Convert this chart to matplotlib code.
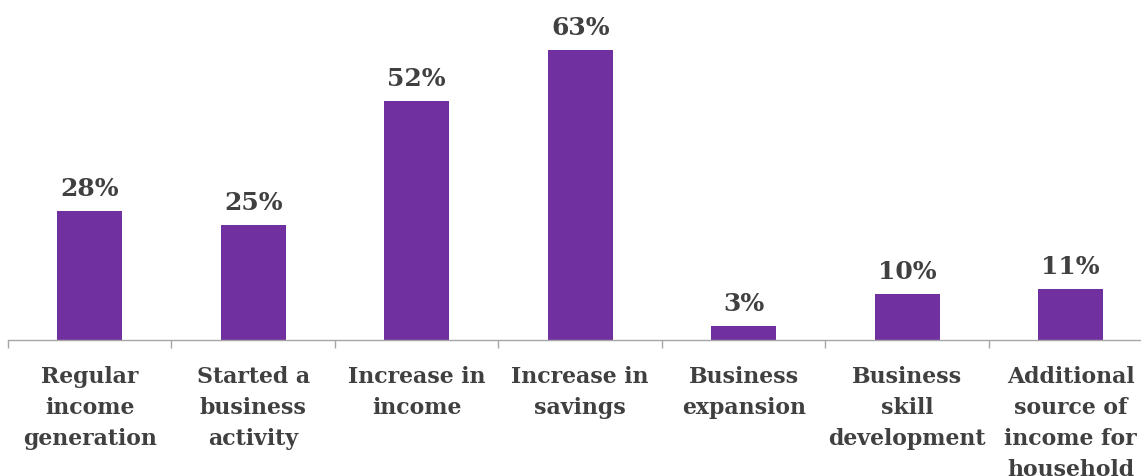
import matplotlib
matplotlib.use("Agg")
import matplotlib.pyplot as plt

categories = [
    "Regular\nincome\ngeneration",
    "Started a\nbusiness\nactivity",
    "Increase in\nincome",
    "Increase in\nsavings",
    "Business\nexpansion",
    "Business\nskill\ndevelopment",
    "Additional\nsource of\nincome for\nhousehold",
]
values = [28, 25, 52, 63, 3, 10, 11]

bar_color = "#7030A0"
text_color = "#404040"
font = ["DejaVu Serif"]

fig = plt.figure(figsize=(11.41, 4.77), dpi=100)
ax = fig.add_axes([8 / 1141, 1 - 341 / 477, 1144.5 / 1141, 322 / 477])

x = list(range(len(values)))
ax.bar(x, values, width=0.4, color=bar_color, zorder=2)
ax.set_xlim(-0.5, len(values) - 0.5)
ax.set_ylim(0, 70)

for xi, v in zip(x, values):
    ax.annotate(f"{v}%", (xi, v), xytext=(0, 8), textcoords="offset points",
                ha="center", va="bottom", fontsize=18, fontweight="bold",
                family=font, color=text_color, annotation_clip=False)

for xi, lab in zip(x, categories):
    ax.annotate(lab, (xi, 0), xytext=(0, -18), textcoords="offset points",
                ha="center", va="top", fontsize=15.8, fontweight="bold",
                family=font, color=text_color, linespacing=1.52,
                annotation_clip=False)

# category boundary ticks along the baseline
ax.set_xticks([i - 0.5 for i in range(len(values) + 1)])
ax.set_xticklabels([])
ax.tick_params(axis="x", direction="out", length=6, width=1, color="#A6A6A6")
ax.set_yticks([])
for side in ["top", "right", "left"]:
    ax.spines[side].set_visible(False)
ax.spines["bottom"].set_color("#A6A6A6")
ax.spines["bottom"].set_linewidth(1)

fig.savefig("out.png", dpi=100)
